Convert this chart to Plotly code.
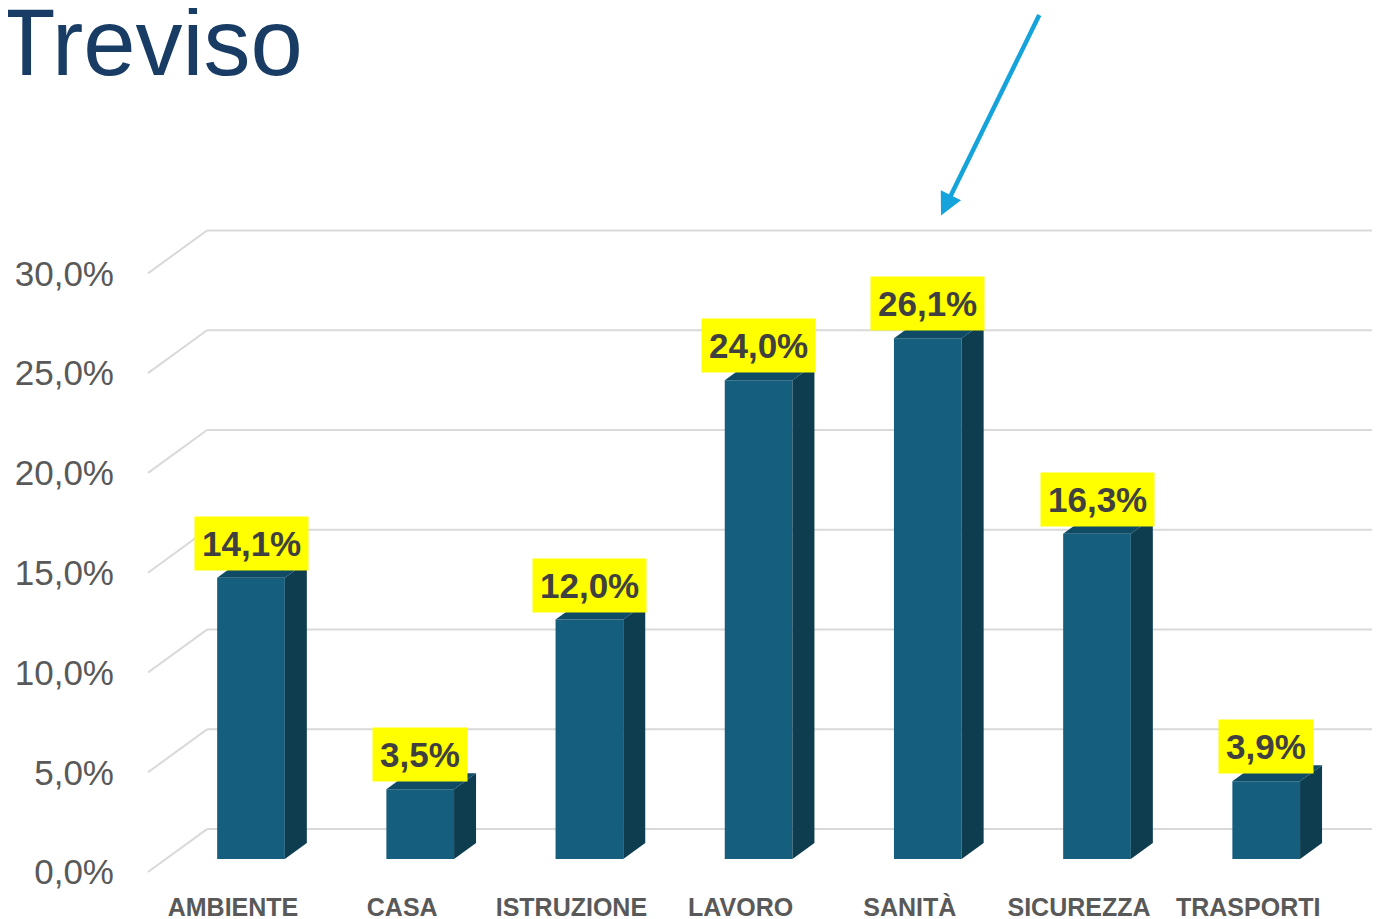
import plotly.graph_objects as go

categories = ["AMBIENTE", "CASA", "ISTRUZIONE", "LAVORO", "SANITÀ", "SICUREZZA", "TRASPORTI"]
values = [14.1, 3.5, 12.0, 24.0, 26.1, 16.3, 3.9]
tick_values = [0, 5, 10, 15, 20, 25, 30]
title_text = "Treviso"

FRONT = "#165E7D"
SIDE = "#0E3D50"
TOP = "#0F4B65"
GRID = "#D9D9D9"

OFFX, OFFY = 8, 6  # page offset of the figure
W, H = 1380 - OFFX, 919 - OFFY
ML, MR, MT, MB = 125 - OFFX, 0, 0, 919 - 880
CX0 = 251 - OFFX     # first bar center (figure px)
BASE = 859 - OFFY    # bar baseline (figure px)
SPX = 169.2          # px per category
SPY = 20.0           # px per percent
x0 = (ML - CX0) / SPX
x1 = (W - MR - CX0) / SPX
yb = (BASE - (H - MB)) / SPY
yt = BASE / SPY

bw = 0.4
ddx = 22 / SPX
ddy = 0.8
wall_dx0 = (148 - 251) / SPX
wall_dx1 = (207 - 251) / SPX

tick_text = [f"{t:.1f}".replace(".", ",") + "%" for t in tick_values]

fig = go.Figure()
fig.add_trace(go.Bar(x=list(range(len(categories))), y=values, width=bw,
                     marker=dict(color=FRONT, line=dict(width=0)), hoverinfo="skip"))
fig.add_trace(go.Scatter(x=[0], y=[0], yaxis="y2", mode="markers",
                         marker=dict(opacity=0), hoverinfo="skip", showlegend=False))

shapes = []
for t in tick_values:
    shapes.append(dict(type="line", xref="x", yref="y", x0=wall_dx0, y0=t - 0.65,
                       x1=wall_dx1, y1=t + 1.5, line=dict(color=GRID, width=2), layer="below"))
    shapes.append(dict(type="line", xref="x", yref="y", x0=wall_dx1, y0=t + 1.5,
                       x1=x1 + 1, y1=t + 1.5, line=dict(color=GRID, width=2), layer="below"))

for i, v in enumerate(values):
    l, r = i - bw / 2, i + bw / 2
    side = f"M {r},0 L {r+ddx},{ddy} L {r+ddx},{v+ddy} L {r},{v} Z"
    top = f"M {l},{v} L {l+ddx},{v+ddy} L {r+ddx},{v+ddy} L {r},{v} Z"
    shapes.append(dict(type="path", path=side, xref="x", yref="y", fillcolor=SIDE,
                       line=dict(width=0), layer="above"))
    shapes.append(dict(type="path", path=top, xref="x", yref="y", fillcolor=TOP,
                       line=dict(width=0), layer="above"))

annotations = []
for i, v in enumerate(values):
    annotations.append(dict(x=i, y=v, xref="x", yref="y", yanchor="bottom", yshift=7,
                            text="<b>" + f"{v:.1f}".replace(".", ",") + "%</b>",
                            showarrow=False, bgcolor="#FFFF00", borderpad=7,
                            font=dict(family="Liberation Sans, Arial", size=35, color="#404040")))

annotations.append(dict(x=(-12 - ML) / (W - ML - MR), y=1, xref="paper", yref="paper",
                        xanchor="left", yanchor="top", yshift=20, showarrow=False,
                        text=title_text,
                        font=dict(family="Liberation Sans, Arial", size=94, color="#183C64")))

annotations.append(dict(x=(941 - 251) / SPX, y=(859 - 214) / SPY, xref="x", yref="y",
                        ax=99, ay=-202, showarrow=True, arrowhead=2, arrowsize=1,
                        arrowwidth=4.5, arrowcolor="#14A3DB", text=""))

fig.update_layout(
    width=W, height=H, margin=dict(l=ML, r=MR, t=MT, b=MB),
    paper_bgcolor="white", plot_bgcolor="white", separators=",.",
    showlegend=False, shapes=shapes, annotations=annotations,
    xaxis=dict(range=[x0, x1], tickvals=list(range(len(categories))),
               ticktext=["<b>" + c + "</b>" for c in categories],
               showgrid=False, zeroline=False, showline=False, ticks="",
               ticklabelshift=-18, ticklabelstandoff=10,
               tickfont=dict(family="Liberation Sans, Arial", size=25, color="#595959"),
               tickangle=0),
    yaxis=dict(range=[yb, yt], showgrid=False, zeroline=False, showline=False,
               showticklabels=False, ticks=""),
    yaxis2=dict(range=[-0.4, -0.4 + (yt - yb)], overlaying="y", side="left",
                tickvals=tick_values, ticktext=tick_text,
                showgrid=False, zeroline=False, showline=False, ticks="",
                ticklabelstandoff=10,
                tickfont=dict(family="Liberation Sans, Arial", size=35, color="#595959")),
)
fig.write_html("out.html")
